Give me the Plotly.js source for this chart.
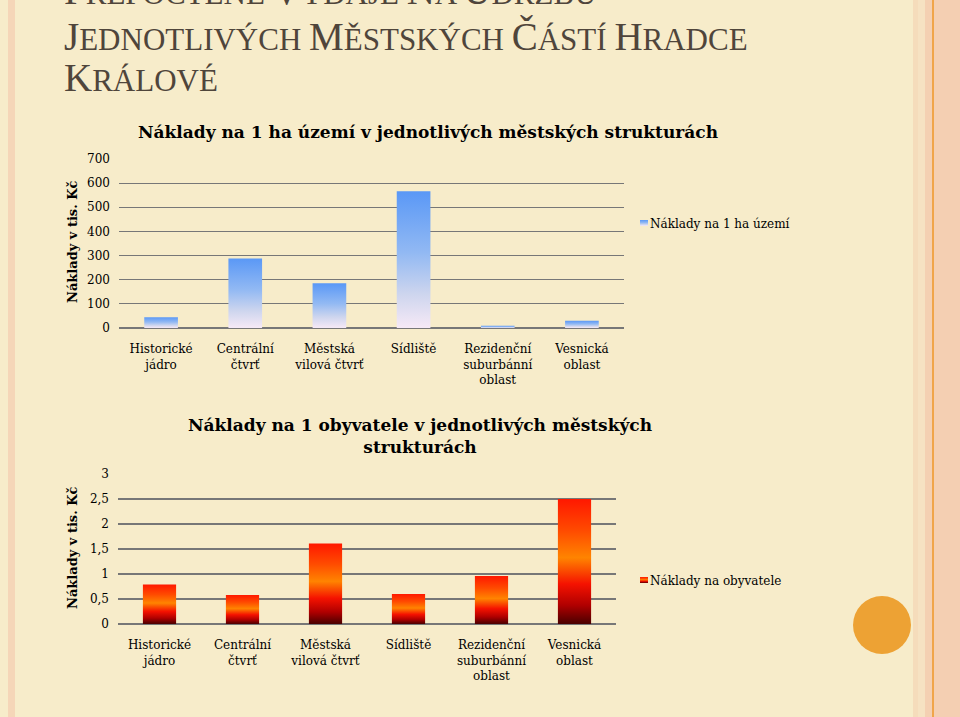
<!DOCTYPE html>
<html>
<head>
<meta charset="utf-8">
<script src="https://cdn.plot.ly/plotly-3.0.1.min.js"></script>
<style>
  html, body { margin: 0; padding: 0; background: #f7ecca; overflow: hidden; }
  #chart { width: 960px; height: 717px; }
</style>
</head>
<body>
<div id="chart"></div>
<script>
// data
var categories = [
    "Historické<br>jádro",
    "Centrální<br>čtvrť",
    "Městská<br>vilová čtvrť",
    "Sídliště",
    "Rezidenční<br>suburbánní<br>oblast",
    "Vesnická<br>oblast"
];
var costPerHa = [45, 288, 185, 566, 9, 30];            // tis. Kč / ha
var costPerResident = [0.79, 0.58, 1.61, 0.6, 0.96, 2.5]; // tis. Kč / obyvatel

var W = 960, H = 717;
function px(x) { return x / W; }
function py(y) { return 1 - y / H; }

var serif = "DejaVu Serif";
var inkColor = "#000000";
var gridGray = "#777777";
var headColor = "#4f453b";

// small caps helper for the slide heading
function smallCaps(words, big) {
    return words.map(function (w) {
        return '<span style="font-size:' + big + 'px">' + w[0] + '</span>' + w.slice(1);
    }).join(" ");
}

var traceHa = {
    type: "bar",
    x: categories,
    y: costPerHa,
    name: "Náklady na 1 ha území",
    marker: {color: "#7fb0f4"},
    xaxis: "x",
    yaxis: "y",
    legend: "legend",
    hoverinfo: "none"
};

var traceRes = {
    type: "bar",
    x: categories,
    y: costPerResident,
    name: "Náklady na obyvatele",
    marker: {color: "#ff5a00"},
    xaxis: "x2",
    yaxis: "y2",
    legend: "legend2",
    hoverinfo: "none"
};

var catAxis = {
    type: "category",
    showgrid: false,
    showline: false,
    zeroline: false,
    ticks: "",
    tickfont: {family: serif, size: 12, color: inkColor},
    ticklabelstandoff: 12,
    fixedrange: true
};

var valAxis = {
    showgrid: true,
    gridcolor: gridGray,
    gridwidth: 1.2,
    zeroline: true,
    zerolinecolor: gridGray,
    zerolinewidth: 1.2,
    showline: false,
    ticks: "",
    tickfont: {family: serif, size: 12, color: inkColor},
    ticklabelstandoff: 8,
    fixedrange: true
};

var layout = {
    width: W,
    height: H,
    autosize: false,
    margin: {l: 0, r: 0, t: 0, b: 0},
    paper_bgcolor: "#f7ecca",
    plot_bgcolor: "rgba(0,0,0,0)",
    separators: ", ",
    font: {family: serif, size: 12, color: inkColor},
    bargap: 0.6,
    showlegend: true,

    xaxis: Object.assign({}, catAxis, {domain: [px(119), px(624)], anchor: "y"}),
    yaxis: Object.assign({}, valAxis, {domain: [py(328), py(159)], range: [0, 700], dtick: 100, anchor: "x"}),
    xaxis2: Object.assign({}, catAxis, {domain: [px(118), px(616)], anchor: "y2"}),
    yaxis2: Object.assign({}, valAxis, {domain: [py(624), py(474)], range: [0, 3], dtick: 0.5, anchor: "x2"}),

    legend: {
        x: px(610), y: py(223), xanchor: "left", yanchor: "middle",
        bgcolor: "rgba(0,0,0,0)",
        font: {family: serif, size: 12, color: inkColor}
    },
    legend2: {
        x: px(610), y: py(580), xanchor: "left", yanchor: "middle",
        bgcolor: "rgba(0,0,0,0)",
        font: {family: serif, size: 12, color: inkColor}
    },

    shapes: [
        // slide border stripes
        {type: "rect", xref: "paper", yref: "paper", x0: px(8), x1: px(15), y0: 0, y1: 1, fillcolor: "#f5d6b8", line: {width: 0}, layer: "below"},
        {type: "rect", xref: "paper", yref: "paper", x0: px(913), x1: px(918), y0: 0, y1: 1, fillcolor: "#f5dcbb", line: {width: 0}, layer: "below"},
        {type: "rect", xref: "paper", yref: "paper", x0: px(918), x1: px(925), y0: 0, y1: 1, fillcolor: "#f6e2c2", line: {width: 0}, layer: "below"},
        {type: "rect", xref: "paper", yref: "paper", x0: px(925), x1: px(932), y0: 0, y1: 1, fillcolor: "#f4d0b2", line: {width: 0}, layer: "below"},
        {type: "rect", xref: "paper", yref: "paper", x0: px(932), x1: px(934), y0: 0, y1: 1, fillcolor: "#f0a54a", line: {width: 0}, layer: "below"},
        {type: "rect", xref: "paper", yref: "paper", x0: px(934), x1: 1, y0: 0, y1: 1, fillcolor: "#f4cfb2", line: {width: 0}, layer: "below"},
        // orange dot
        {type: "circle", xref: "paper", yref: "paper", x0: px(853), x1: px(911), y0: py(654), y1: py(596), fillcolor: "#eda234", line: {width: 0}, layer: "below"}
    ],

    annotations: [
        // heading runs off the top of the slide, as in the original
        {text: smallCaps(["PŘEPOČTENÉ", "VÝDAJE", "NA", "ÚDRŽBU"], 39), x: px(62), y: py(-9), xref: "paper", yref: "paper",
         xanchor: "left", yanchor: "middle", showarrow: false, font: {family: "Liberation Serif", size: 31, color: headColor}},
        {text: smallCaps(["JEDNOTLIVÝCH", "MĚSTSKÝCH", "ČÁSTÍ", "HRADCE"], 39), x: px(62), y: py(36), xref: "paper", yref: "paper",
         xanchor: "left", yanchor: "middle", showarrow: false, font: {family: "Liberation Serif", size: 31, color: headColor}},
        {text: smallCaps(["KRÁLOVÉ"], 39), x: px(62), y: py(77), xref: "paper", yref: "paper",
         xanchor: "left", yanchor: "middle", showarrow: false, font: {family: "Liberation Serif", size: 31, color: headColor}},

        {text: "<b>Náklady na 1 ha území v jednotlivých městských strukturách</b>", x: px(428), y: py(132), xref: "paper", yref: "paper",
         xanchor: "center", yanchor: "middle", showarrow: false, font: {family: serif, size: 17, color: inkColor}},
        {text: "<b>Náklady na 1 obyvatele v jednotlivých městských<br>strukturách</b>", x: px(420), y: py(436), xref: "paper", yref: "paper",
         xanchor: "center", yanchor: "middle", showarrow: false, font: {family: serif, size: 17, color: inkColor}},

        {text: "<b>Náklady v tis. Kč</b>", textangle: -90, x: px(72), y: py(242), xref: "paper", yref: "paper",
         xanchor: "center", yanchor: "middle", showarrow: false, font: {family: serif, size: 13, color: inkColor}},
        {text: "<b>Náklady v tis. Kč</b>", textangle: -90, x: px(72), y: py(548), xref: "paper", yref: "paper",
         xanchor: "center", yanchor: "middle", showarrow: false, font: {family: serif, size: 13, color: inkColor}}
    ]
};

function addGradient(svg, id, stops) {
    var ns = "http://www.w3.org/2000/svg";
    var defs = svg.querySelector("defs");
    var g = document.createElementNS(ns, "linearGradient");
    g.setAttribute("id", id);
    g.setAttribute("x1", "0"); g.setAttribute("y1", "0");
    g.setAttribute("x2", "0"); g.setAttribute("y2", "1");
    stops.forEach(function (s) {
        var st = document.createElementNS(ns, "stop");
        st.setAttribute("offset", s[0]);
        st.setAttribute("stop-color", s[1]);
        g.appendChild(st);
    });
    defs.appendChild(g);
}

Plotly.newPlot("chart", [traceHa, traceRes], layout, {staticPlot: true}).then(function (gd) {
    var svg = gd.querySelector("svg.main-svg");
    addGradient(svg, "gradBlue", [[0, "#5a98f6"], [0.45, "#92b9f3"], [0.75, "#cdd5ee"], [1, "#f6e9f6"]]);
    addGradient(svg, "gradFire", [[0, "#ff1800"], [0.25, "#ff4a00"], [0.47, "#ff8400"], [0.68, "#f51200"], [0.85, "#b00000"], [1, "#4a0000"]]);

    gd.querySelectorAll(".subplot.xy .barlayer path").forEach(function (p) { p.style.fill = "url(#gradBlue)"; });
    gd.querySelectorAll(".subplot.x2y2 .barlayer path").forEach(function (p) { p.style.fill = "url(#gradFire)"; });

    // legend swatches: small gradient squares right next to the text
    var grads = ["url(#gradBlue)", "url(#gradFire)"];
    gd.querySelectorAll(".legendpoints path").forEach(function (p, i) {
        p.setAttribute("d", "M18,3H10V-3H18Z");
        p.style.fill = grads[i] || grads[0];
        p.style.stroke = "none";
    });
});
</script>
</body>
</html>
